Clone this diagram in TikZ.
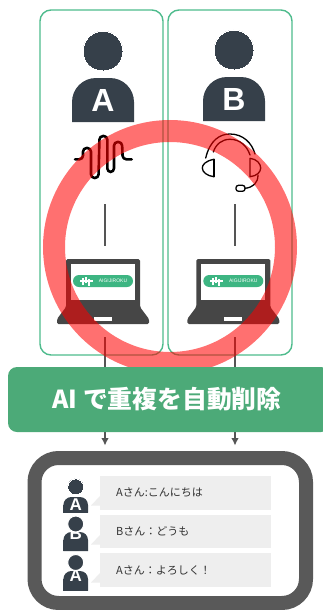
\documentclass[tikz,border=0pt]{standalone}
\usepackage{fontspec}
\setmainfont{Noto Sans CJK JP}
\newfontfamily\latinbold[BoldFont=Liberation Sans Bold]{Liberation Sans}
\usetikzlibrary{arrows.meta}
\definecolor{slate}{HTML}{36404A}
\definecolor{boxgreen}{HTML}{4DBB8C}
\definecolor{bargreen}{HTML}{4CAA78}
\definecolor{pillgreen}{HTML}{3DB582}
\definecolor{laptopgray}{HTML}{464646}
\definecolor{framegray}{HTML}{595959}
\definecolor{linegray}{HTML}{555555}
\definecolor{bubblegray}{HTML}{EEEEEE}
\tikzset{
  panelbox/.style={draw=boxgreen,line width=1.4pt,rounded corners=11pt},
  persona/.style={fill=slate},
  letterlabel/.style={text=white,inner sep=0pt,font=\latinbold\bfseries},
  linkline/.style={draw=linegray,line width=1.2pt},
  iconline/.style={draw=black,line width=1.3pt,line cap=round,line join=round},
  bubblefill/.style={fill=bubblegray},
  saylabel/.style={anchor=west,inner sep=0pt,text=black!80,font=\fontsize{11pt}{12pt}\selectfont},
}
% person: cx, head cy, head r, half width, body top, body bottom, corner, letter, letter cy
\newcommand{\personicon}[9]{%
  \fill[persona,rounded corners=#7pt] ({#1-#4},#6) -- ({#1-#4},#5) -- ({#1+#4},#5) [sharp corners] -- ({#1+#4},#6) -- cycle;
  \fill[persona] ({#1-#4},{#5+#7}) rectangle ({#1+#4},#6);
  \node[letterlabel] at (#1,#9) {\fontsize{\lettersize pt}{\lettersize pt}\selectfont #8};
  \filldraw[persona,draw=white,line width=\haloline pt] (#1,#2) circle (#3);
}
\newcommand{\laptopicon}[1]{%
  \begin{scope}[xshift=#1pt]
    \fill[laptopgray,rounded corners=1.5pt] (66,259) -- (140,259) -- (140,307) -- (149,319) -- (149,324) -- (57,324) -- (57,319) -- (66,307) -- cycle;
    \fill[white] (71,264) rectangle (135,300);
    \fill[white] (94,317) rectangle (112,321);
    \fill[pillgreen,rounded corners=6pt] (73,275) rectangle (133,287);
    \fill[white] (82,277.5) rectangle (84,284.5);
    \fill[white] (85,276.5) rectangle (87,283);
    \fill[white] (88,279) rectangle (90,285.5);
    \fill[white] (80,279.5) rectangle (93,281.5);
    \node[inner sep=0pt,text=white,font=\latinbold\fontsize{5pt}{5pt}\selectfont] at (113,281) {AIGIJIROKU};
  \end{scope}
}
\begin{document}
\begin{tikzpicture}[x=1pt,y=-1pt]
\useasboundingbox (0,0) rectangle (323,610);
% panels
\draw[panelbox] (40,10) rectangle (163,355);
\draw[panelbox] (168,10) rectangle (292,355);
% large persons
\def\lettersize{32}\def\haloline{0}
\personicon{103}{51}{20}{31}{78}{122}{24}{A}{100}
\personicon{234}{50}{20}{31}{77}{121}{24}{B}{99}
% waveform
\draw[iconline,line width=2.6pt,rounded corners=3.6pt]
  (75,159.3) -- (83,159.3) -- (83,148) -- (91,148) -- (91,178) -- (98.5,178) -- (99.5,136) -- (107.3,136) -- (107.3,172) -- (114,172) -- (114,142) -- (122,142) -- (122.7,159.3) -- (131.7,159.3);
% headset
\draw[iconline] (205.7,158) .. controls (210,140) and (220,134) .. (230,134) .. controls (243,134) and (252,143) .. (255,154);
\draw[iconline] (213.3,152) .. controls (216,144) and (222,139.3) .. (230,139.3) .. controls (240,139.3) and (247,146) .. (250,155);
\draw[iconline] (214,159.3) .. controls (205,161) and (202.3,165) .. (202.3,168) .. controls (202.3,172) and (207,176) .. (214,176.7);
\draw[iconline] (214,159.3) -- (214,176.7);
\draw[iconline] (250,158.3) .. controls (257,159) and (260.7,164) .. (260.7,168) .. controls (260.7,172) and (257,176) .. (250,176.7) -- cycle;
\draw[iconline] (258,175) .. controls (258,183) and (253,187.5) .. (245,188.3);
\draw[iconline,rounded corners=2.5pt] (236,185.3) rectangle (245,191.3);
% connectors above laptops
\coordinate (a1) at (105,204); \coordinate (a2) at (105,246);
\coordinate (b1) at (235,204); \coordinate (b2) at (235,246);
\draw[linkline] (a1) -- (a2);
\draw[linkline] (b1) -- (b2);
% laptops
\laptopicon{0}
\laptopicon{130.3}
% connectors below laptops
\coordinate (a3) at (105,337); \coordinate (a4) at (105,445.5);
\coordinate (b3) at (235,337); \coordinate (b4) at (235,445.5);
\draw[linkline,-{Latex[length=7.5pt,width=7.5pt]}] (a3) -- (a4);
\draw[linkline,-{Latex[length=7.5pt,width=7.5pt]}] (b3) -- (b4);
% red ring
\draw[red,opacity=0.56,line width=22pt] (170,247) circle (116);
% AI bar
\node[fill=bargreen,rounded corners=9pt,minimum width=322pt,minimum height=65pt,inner sep=0pt] (bar) at (169,399.5) {};
\node[inner sep=0pt,text=white,font=\fontsize{24.8pt}{27pt}\selectfont\bfseries] (bartext) at (167,399.5) {AI で重複を自動削除};
% result frame
\draw[draw=framegray,line width=14pt,rounded corners=24pt,fill=white] (34.5,458) rectangle (306,603);
% bubbles
\fill[bubblefill] (100,476) rectangle (271,510);
\fill[bubblefill] (100,496) -- (91,505.5) -- (100,505.5) -- cycle;
\fill[bubblefill] (100,515) rectangle (271,548);
\fill[bubblefill] (100,535) -- (91,544.5) -- (100,544.5) -- cycle;
\fill[bubblefill] (100,553) rectangle (271,587);
\fill[bubblefill] (100,573) -- (91,582.5) -- (100,582.5) -- cycle;
\node[saylabel] (s1) at (116,492) {Aさん:こんにちは};
\node[saylabel] (s2) at (116,531) {Bさん：どうも};
\node[saylabel] (s3) at (116,570) {Aさん：よろしく！};
% small persons
\def\lettersize{17}\def\haloline{0}
\personicon{75.7}{486.7}{8}{12.3}{497}{512.5}{8}{A}{504.5}
\def\haloline{1}
\personicon{75.7}{524}{8}{12.3}{532}{551}{8}{B}{533.5}
\personicon{75.7}{562.5}{8}{12.3}{571}{590.5}{8}{A}{575.5}
\end{tikzpicture}
\end{document}
